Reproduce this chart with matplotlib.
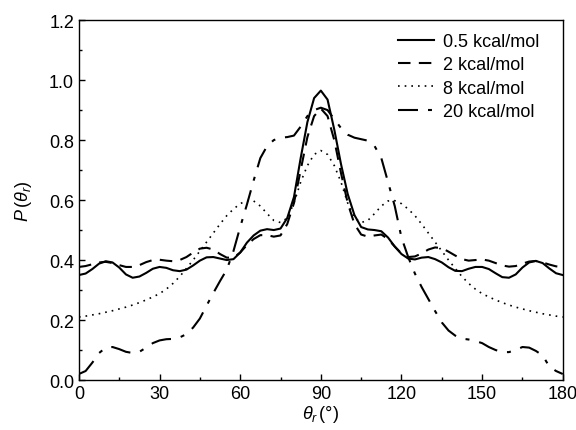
import numpy as np
import matplotlib
matplotlib.use('Agg')
import matplotlib.pyplot as plt
from matplotlib.ticker import MultipleLocator

plt.rcParams['font.family'] = ['Liberation Sans', 'DejaVu Sans']
plt.rcParams['mathtext.fontset'] = 'custom'
plt.rcParams['mathtext.rm'] = 'Liberation Sans'
plt.rcParams['mathtext.it'] = 'Liberation Sans:italic'

theta = np.arange(0, 180.1, 2.5)

p_05 = [0.350, 0.355, 0.370, 0.388, 0.396, 0.392, 0.375, 0.352, 0.341, 0.345,
        0.357, 0.371, 0.377, 0.374, 0.366, 0.363, 0.368, 0.382, 0.398, 0.409,
        0.410, 0.405, 0.400, 0.403, 0.425, 0.458, 0.482, 0.498, 0.503, 0.500,
        0.505, 0.540, 0.610, 0.740, 0.860, 0.940, 0.965, 0.935, 0.835, 0.720,
        0.620, 0.550, 0.510, 0.502, 0.500, 0.496, 0.475, 0.445, 0.420, 0.405,
        0.402, 0.408, 0.410, 0.403, 0.392, 0.376, 0.364, 0.363, 0.371, 0.377,
        0.377, 0.370, 0.356, 0.343, 0.341, 0.352, 0.375, 0.392, 0.397, 0.390,
        0.372, 0.356, 0.350]

p_2 = [0.377, 0.380, 0.386, 0.392, 0.394, 0.390, 0.383, 0.377, 0.377, 0.383,
       0.393, 0.400, 0.401, 0.398, 0.396, 0.400, 0.410, 0.425, 0.438, 0.441,
       0.435, 0.420, 0.408, 0.408, 0.425, 0.450, 0.470, 0.483, 0.483, 0.478,
       0.482, 0.520, 0.590, 0.700, 0.810, 0.880, 0.905, 0.880, 0.800, 0.690,
       0.590, 0.520, 0.485, 0.478, 0.482, 0.485, 0.470, 0.445, 0.422, 0.410,
       0.412, 0.422, 0.435, 0.442, 0.440, 0.428, 0.415, 0.403, 0.398, 0.400,
       0.402, 0.398, 0.390, 0.382, 0.378, 0.380, 0.388, 0.395, 0.397, 0.392,
       0.385, 0.379, 0.377]

p_8 = [0.210, 0.213, 0.217, 0.221, 0.226, 0.231, 0.237, 0.243, 0.250, 0.258,
       0.267, 0.277, 0.288, 0.303, 0.322, 0.345, 0.372, 0.400, 0.430, 0.460,
       0.490, 0.520, 0.548, 0.570, 0.588, 0.598, 0.597, 0.580, 0.555, 0.532,
       0.525, 0.540, 0.590, 0.660, 0.715, 0.752, 0.765, 0.752, 0.715, 0.660,
       0.590, 0.540, 0.525, 0.532, 0.555, 0.580, 0.597, 0.598, 0.588, 0.570,
       0.548, 0.520, 0.490, 0.460, 0.430, 0.400, 0.372, 0.345, 0.322, 0.303,
       0.288, 0.277, 0.267, 0.258, 0.250, 0.243, 0.237, 0.231, 0.226, 0.221,
       0.217, 0.213, 0.210]

p_20 = [0.020, 0.030, 0.058, 0.090, 0.108, 0.110, 0.103, 0.094, 0.090, 0.094,
        0.108, 0.123, 0.132, 0.136, 0.137, 0.142, 0.153, 0.175, 0.205, 0.248,
        0.290, 0.330, 0.368, 0.430, 0.510, 0.585, 0.665, 0.740, 0.780, 0.800,
        0.808, 0.810, 0.815, 0.845, 0.880, 0.900, 0.908, 0.900, 0.870, 0.840,
        0.818, 0.808, 0.803, 0.798, 0.780, 0.740, 0.660, 0.580, 0.475, 0.410,
        0.355, 0.310, 0.270, 0.230, 0.192, 0.165, 0.148, 0.138, 0.135, 0.130,
        0.123, 0.110, 0.100, 0.093, 0.093, 0.100, 0.110, 0.108, 0.097, 0.082,
        0.045, 0.030, 0.020]

labels = ['0.5 kcal/mol', '2 kcal/mol', '8 kcal/mol', '20 kcal/mol']

fig = plt.figure(figsize=(5.76, 4.31), dpi=100)
ax = fig.add_axes([0.137, 0.116, 0.840, 0.835])

ax.plot(theta, p_05, color='black', lw=1.5, label=labels[0])
ax.plot(theta, p_2, color='black', lw=1.5, dashes=(6, 4), label=labels[1])
ax.plot(theta, p_8, color='black', lw=1.2, dashes=(1, 3), label=labels[2])
ax.plot(theta, p_20, color='black', lw=1.5, dashes=(9.6, 4.8, 1.9, 4.8), label=labels[3])

ax.set_xlim(0, 180)
ax.set_ylim(0, 1.2)
ax.xaxis.set_major_locator(MultipleLocator(30))
ax.xaxis.set_minor_locator(MultipleLocator(15))
ax.yaxis.set_major_locator(MultipleLocator(0.2))
ax.yaxis.set_minor_locator(MultipleLocator(0.1))
ax.yaxis.set_major_formatter(plt.FormatStrFormatter('%.1f'))
ax.tick_params(which='both', direction='in', top=False, right=False, labelsize=13)
ax.tick_params(which='major', length=4, width=1)
ax.tick_params(which='minor', length=2.5, width=1)
for s in ax.spines.values():
    s.set_linewidth(1)

ax.set_xlabel(r'$\theta_r\,(°)$', fontsize=13, labelpad=1)
ax.set_ylabel(r'$P\,(\theta_r)$', fontsize=13, labelpad=11)

ax.legend(loc='upper right', bbox_to_anchor=(0.985, 1.009), frameon=False, fontsize=13,
          handlelength=2.0, handletextpad=0.5, labelspacing=0.35)

fig.savefig('out.png', dpi=100)
